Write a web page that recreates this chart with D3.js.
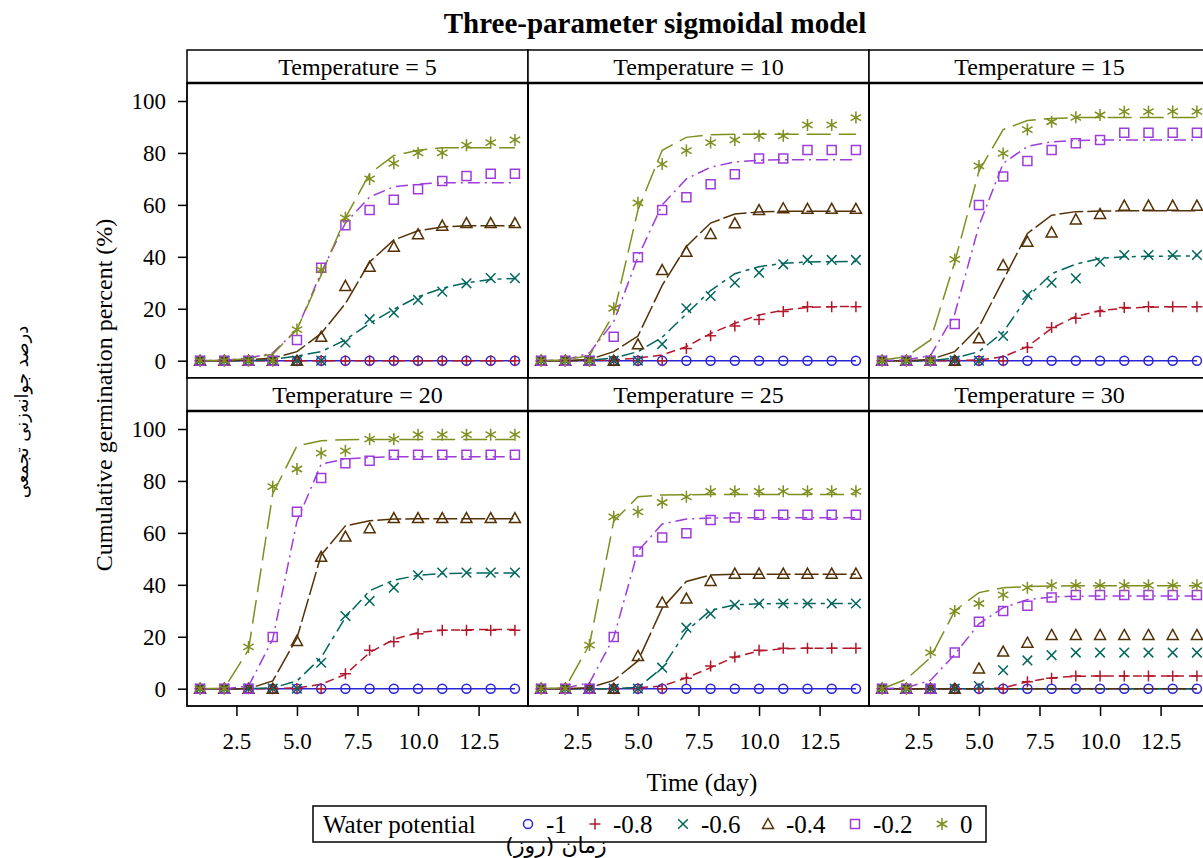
<!DOCTYPE html>
<html>
<head>
<meta charset="utf-8">
<script src="https://cdn.jsdelivr.net/npm/d3@7"></script>
<style>
  body { margin: 0; background: #fff; }
  svg text { font-family: "Liberation Serif", "Times New Roman", serif; fill: #000; }
</style>
</head>
<body>
<div id="chart"></div>
<script>
// ---- data ----
var days = [1, 2, 3, 4, 5, 6, 7, 8, 9, 10, 11, 12, 13, 14];
var temps = [5, 10, 15, 20, 25, 30];
var potentials = ["-1", "-0.8", "-0.6", "-0.4", "-0.2", "0"];
var colors = ["#2A25D9", "#B2182B", "#01665E", "#543005", "#9D3CDB", "#7F8E1F"];
var markers = ["circle", "plus", "x", "triangle", "square", "asterisk"];
var dashes = [null, "9,5", "13,5,4,5", "24,4", "12,5,2,5", "24,8"];
var yTicks = [0, 20, 40, 60, 80, 100];
var xTicks = [2.5, 5, 7.5, 10, 12.5];

// observed cumulative germination (%), one row per water potential (-1 ... 0)
var obs5 = [
  [0,0,0,0,0,0,0,0,0,0,0,0,0,0],
  [0,0,0,0,0,0,0,0,0,0,0,0,0,0],
  [0,0,0,0,0,0,7,16,18.5,23.4,26.6,29.8,31.8,31.8],
  [0,0,0,0,0,9.2,28.8,36.2,43.9,48.7,52,53,53,53],
  [0,0,0,0,8,35.8,52.2,58,62,66,69.2,71.1,72,72],
  [0,0,0,0,12,35,55,70,76,80,80,83,84,85]
];
var obs10 = [
  [0,0,0,0,0,0,0,0,0,0,0,0,0,0],
  [0,0,0,0,0,0,4.7,9.6,13.4,15.9,18.9,20.8,20.8,20.8],
  [0,0,0,0,0,6.4,20.2,24.9,30,33.9,37.1,38.8,38.8,38.8],
  [0,0,0,0,6.3,34.9,42,48.8,52.9,58,58.7,58.5,58.5,58.5],
  [0,0,0,9.2,39.8,58,62.9,67.9,71.8,77.9,77.9,81.1,81.1,81.1],
  [0,0,0,20.2,60.8,75.7,80.9,84,85,86.6,86.6,90.8,90.8,93.6]
];
var obs15 = [
  [0,0,0,0,0,0,0,0,0,0,0,0,0,0],
  [0,0,0,0,0,0,5.1,12.8,16.3,18.9,20.5,20.8,20.8,20.8],
  [0,0,0,0,0,9.5,25.3,30,31.7,38.1,40.7,40.7,40.7,40.7],
  [0,0,0,0,8.6,36.8,45.8,49.4,54.4,56.5,59.7,59.7,59.7,59.7],
  [0,0,0,14.1,60,70.9,76.9,81.1,83.7,85,87.8,87.8,87.8,87.8],
  [0,0,0,39,75,79.8,89,92,93.7,94.6,95.9,95.9,96,96]
];
var obs20 = [
  [0,0,0,0,0,0,0,0,0,0,0,0,0,0],
  [0,0,0,0,0,0,5.8,14.8,18.1,21.2,22.5,22.5,22.5,22.5],
  [0,0,0,0,0,10,28,33.8,38.9,43.7,44.7,44.7,44.7,44.7],
  [0,0,0,0,18.4,50.8,58.6,61.8,65.7,65.7,65.7,65.7,65.7,65.7],
  [0,0,0,19.9,68.1,81.1,86.8,87.8,90.1,90.1,90.1,90.1,90.1,90.1],
  [0,0,16.1,77.8,84.6,90.7,91.6,96.1,96.1,97.8,97.8,97.8,97.8,97.8]
];
var obs25 = [
  [0,0,0,0,0,0,0,0,0,0,0,0,0,0],
  [0,0,0,0,0,0,4,8.7,12.2,14.8,15.6,15.6,15.6,15.6],
  [0,0,0,0,0,8.1,23.5,28.9,32.3,32.8,32.8,32.8,32.8,32.8],
  [0,0,0,0,12.6,33.2,34.7,41.5,44.3,44.3,44.3,44.3,44.3,44.3],
  [0,0,0,19.9,52.8,58.2,59.9,65,65.9,67,67,67,67,67],
  [0,0,16.8,66.2,68.1,71.7,73.9,76,76,76,76,76,76,76]
];
var obs30 = [
  [0,0,0,0,0,0,0,0,0,0,0,0,0,0],
  [0,0,0,0,0,0,2.7,4,4.9,4.9,4.9,4.9,4.9,4.9],
  [0,0,0,0,1,7.1,10.9,12.9,13.9,13.9,13.9,13.9,13.9,13.9],
  [0,0,0,0,7.8,14.3,17.7,20.7,20.7,20.7,20.7,20.7,20.7,20.7],
  [0,0,0,13.9,25.8,29.9,31.9,35.1,36.1,36.1,36.1,36.1,36.1,36.1],
  [0,0,13.9,29.9,32.8,36.1,38.9,39.8,39.8,39.8,39.8,39.8,39.8,39.8]
];

// fitted sigmoid values at each day, as drawn
var fit5 = [
  [0,0,0,0,0,0,0,0,0,0,0,0,0,0],
  [0,0,0,0,0,0,0,0,0,0,0,0,0,0],
  [0,0,0,0.5,1.8,3.5,8,14.4,19.8,24.6,27.9,30,31.3,31.7],
  [0,0,0.3,1,3.5,10.5,22,38,46.5,50,51.5,52,52,52],
  [0,0.2,1,3,12,34,53,63,67,68,68.5,68.5,68.5,68.5],
  [0,0.2,0.8,2.5,12,33,55,72,79,81,82,82,82,82]
];
var fit10 = [
  [0,0,0,0,0,0,0,0,0,0,0,0,0,0],
  [0,0,0,0.3,1,2.2,5.4,10.5,14.4,17.6,19.5,20.5,20.8,20.9],
  [0,0,0.2,1,3.5,9,18,27,33.5,36.2,37.5,38,38.1,38.2],
  [0,0,0.5,3.5,9.5,29,44,53,56.5,57.3,57.5,57.5,57.5,57.5],
  [0,0.3,3,15,40,60,70,74.5,76.5,77.2,77.4,77.4,77.4,77.4],
  [0,0.3,2,18,58,81,86,87,87.2,87.2,87.2,87.2,87.2,87.2]
];
var fit15 = [
  [0,0,0,0,0,0,0,0,0,0,0,0,0,0],
  [0,0,0,0,0.3,1.5,5.4,12.5,17,19.3,20.2,20.6,20.8,20.8],
  [0,0,0,1,3.5,11,24.5,33.5,37.2,39.4,40,40.2,40.3,40.3],
  [0,0,0.5,3.5,13,31,49,56,57.4,57.6,57.7,57.7,57.7,57.7],
  [0,0.3,2,18,52,76,82.5,84.3,84.8,85,85,85,85,85],
  [0.3,1.5,8,38,73,89,92.5,93.3,93.6,93.6,93.6,93.6,93.6,93.6]
];
var fit20 = [
  [0,0,0,0,0,0,0,0,0,0,0,0,0,0],
  [0,0,0,0,0.3,1.7,5.5,13.9,19,21.6,22.5,22.7,22.8,22.8],
  [0,0,0,0.3,3,12,27.4,37.7,41.8,43.7,44.3,44.5,44.6,44.6],
  [0,0,0,3,19.5,51.5,62.7,64.7,65.3,65.4,65.4,65.4,65.4,65.4],
  [0,0,1,19,64.5,86.5,88.5,89,89.3,89.3,89.3,89.3,89.3,89.3],
  [0,0.2,15,75,93.5,95.5,95.9,96,96,96,96,96,96,96]
];
var fit25 = [
  [0,0,0,0,0,0,0,0,0,0,0,0,0,0],
  [0,0,0,0,0.4,1,4.2,8.1,12.2,14.5,15.4,15.6,15.6,15.6],
  [0,0,0,0,0.4,8,22.2,30.2,32.3,32.7,32.8,32.8,32.8,32.8],
  [0,0,0.4,3.2,10.7,31,41.3,43.8,44.1,44.1,44.1,44.1,44.1,44.1],
  [0,0.2,2.3,19.7,53,63.4,65.3,65.7,65.8,65.8,65.8,65.8,65.8,65.8],
  [0,0.4,17,64.5,73.9,74.6,74.7,74.8,74.8,74.8,74.8,74.8,74.8,74.8]
];
var fit30 = [
  [0,0,0,0,0,0,0,0,0,0,0,0,0,0],
  [0,0,0,0,0,0.3,2.7,4.2,4.8,4.9,4.9,4.9,4.9,4.9],
  [0,0,0,0,0,0,0,0,0,0,0,0,0,0],
  [0,0,0,0,0,0,0,0,0,0,0,0,0,0],
  [0,0.4,3.2,13.2,25,31.2,34.3,35.3,35.6,35.7,35.7,35.7,35.7,35.7],
  [0,3.6,12,30,37,38.9,39.3,39.5,39.6,39.6,39.6,39.6,39.6,39.6]
];

var observed = [obs5, obs10, obs15, obs20, obs25, obs30];
var fitted = [fit5, fit10, fit15, fit20, fit25, fit30];

// ---- layout ----
var W = 1203, H = 858;
var colLeft = [187, 528, 869], panelW = 341;
var rowTop = [50, 378], headH = 33, plotH = 295;

var svg = d3.select("#chart").append("svg")
    .attr("width", W)
    .attr("height", H);

var x = d3.scaleLinear().domain([0.46, 14.54]).range([0, panelW]);
var y = d3.scaleLinear().domain([-6.66, 106.93]).range([plotH, 0]);

function markerPath(type) {
  switch (type) {
    case "circle": return "M-4.5,0a4.5,4.5 0 1,0 9,0a4.5,4.5 0 1,0 -9,0";
    case "plus": return "M-5.5,0H5.5M0,-5.5V5.5";
    case "x": return "M-4.8,-4.8L4.8,4.8M-4.8,4.8L4.8,-4.8";
    case "triangle": return "M0,-5.5L5.5,4.5L-5.5,4.5Z";
    case "square": return "M-4.5,-4.5H4.5V4.5H-4.5Z";
    default: return "M0,-6V6M-5.2,-3L5.2,3M-5.2,3L5.2,-3";
  }
}

// title
svg.append("text")
    .attr("x", 655).attr("y", 33)
    .attr("text-anchor", "middle")
    .style("font-size", "29px").style("font-weight", "bold")
    .text("Three-parameter sigmoidal model");

var line = d3.line()
    .x(function(d) { return x(d[0]); })
    .y(function(d) { return y(d[1]); });

temps.forEach(function(t, i) {
  var col = i % 3, row = Math.floor(i / 3);
  var gx = colLeft[col], gy = rowTop[row];

  var g = svg.append("g").attr("transform", "translate(" + gx + "," + gy + ")");

  // header strip
  g.append("rect")
      .attr("width", panelW).attr("height", headH)
      .attr("fill", "#fff").attr("stroke", "#000").attr("stroke-width", 1.5);
  g.append("text")
      .attr("x", panelW / 2).attr("y", 25)
      .attr("text-anchor", "middle")
      .style("font-size", "24px")
      .text("Temperature = " + t);

  var p = g.append("g").attr("transform", "translate(0," + headH + ")");
  p.append("clipPath").attr("id", "clip" + i)
    .append("rect").attr("width", panelW).attr("height", plotH);

  var area = p.append("g").attr("clip-path", "url(#clip" + i + ")");

  // fitted lines
  potentials.forEach(function(wp, s) {
    var pts = days.map(function(d, k) { return [d, fitted[i][s][k]]; });
    area.append("path")
        .attr("d", line(pts))
        .attr("fill", "none")
        .attr("stroke", colors[s])
        .attr("stroke-width", 1.5)
        .attr("stroke-dasharray", dashes[s]);
  });
  // observed markers
  potentials.forEach(function(wp, s) {
    area.selectAll(null)
        .data(days.map(function(d, k) { return [d, observed[i][s][k]]; }))
        .enter().append("path")
        .attr("transform", function(d) { return "translate(" + x(d[0]) + "," + y(d[1]) + ")"; })
        .attr("d", markerPath(markers[s]))
        .attr("fill", "none")
        .attr("stroke", colors[s])
        .attr("stroke-width", 1.5);
  });

  p.append("rect")
      .attr("width", panelW).attr("height", plotH)
      .attr("fill", "none").attr("stroke", "#000").attr("stroke-width", 1.8);
  g.append("line")
      .attr("x1", 0).attr("x2", panelW).attr("y1", headH).attr("y2", headH)
      .attr("stroke", "#000").attr("stroke-width", 2.5);

  if (col === 0) {
    var ya = p.append("g").call(d3.axisLeft(y).tickValues(yTicks).tickSize(9).tickPadding(12));
    ya.select(".domain").remove();
    ya.selectAll("line").attr("stroke", "#000").attr("stroke-width", 1.5);
    ya.selectAll("text").style("font-size", "23px")
        .style("font-family", "'Liberation Serif', 'Times New Roman', serif");
  }
  if (row === 1) {
    var xa = p.append("g").attr("transform", "translate(0," + plotH + ")")
        .call(d3.axisBottom(x).tickValues(xTicks).tickFormat(d3.format(".1f")).tickSize(10).tickPadding(17));
    xa.select(".domain").remove();
    xa.selectAll("line").attr("stroke", "#000").attr("stroke-width", 1.5);
    xa.selectAll("text").style("font-size", "23px")
        .style("font-family", "'Liberation Serif', 'Times New Roman', serif");
  }
});

// axis labels
svg.append("text")
    .attr("transform", "translate(112,395) rotate(-90)")
    .attr("text-anchor", "middle")
    .style("font-size", "24px")
    .text("Cumulative germination percent (%)");
svg.append("text")
    .attr("transform", "translate(28,412) rotate(-90)")
    .attr("text-anchor", "middle")
    .attr("direction", "rtl")
    .style("font-family", "'DejaVu Sans', sans-serif")
    .style("font-size", "18px")
    .text("درصد جوانه‌زنی تجمعی");
svg.append("text")
    .attr("x", 702).attr("y", 791)
    .attr("text-anchor", "middle")
    .style("font-size", "25px")
    .text("Time (day)");

// legend
var lg = svg.append("g").attr("transform", "translate(313,806)");
lg.append("rect")
    .attr("width", 673).attr("height", 36)
    .attr("fill", "#fff").attr("stroke", "#000").attr("stroke-width", 1.5);
lg.append("text").attr("x", 10).attr("y", 27).style("font-size", "25px").text("Water potential");
var legX = [215, 282, 370, 455, 542, 629];
potentials.forEach(function(wp, s) {
  lg.append("path")
      .attr("transform", "translate(" + legX[s] + ",18)")
      .attr("d", markerPath(markers[s]))
      .attr("fill", "none").attr("stroke", colors[s]).attr("stroke-width", 1.5);
  lg.append("text")
      .attr("x", legX[s] + 18).attr("y", 27)
      .style("font-size", "25px")
      .text(wp);
});

svg.append("text")
    .attr("x", 556).attr("y", 853)
    .attr("text-anchor", "middle")
    .attr("direction", "rtl")
    .style("font-family", "'DejaVu Sans', sans-serif")
    .style("font-size", "22px")
    .text("زمان (روز)");
</script>
</body>
</html>
